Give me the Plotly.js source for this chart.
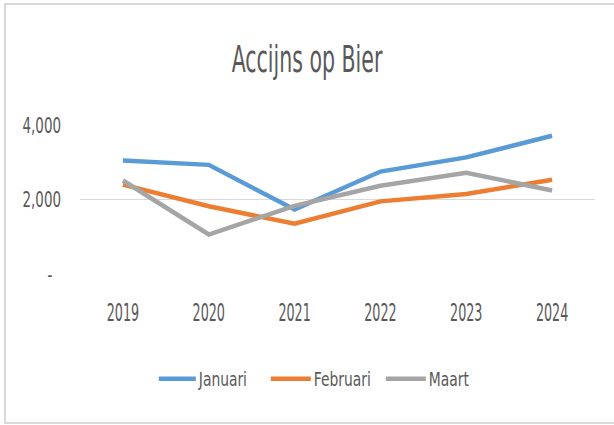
<!DOCTYPE html>
<html>
<head>
<meta charset="utf-8">
<script src="https://cdn.plot.ly/plotly-3.0.1.min.js"></script>
<style>
  html, body { margin: 0; padding: 0; background: #ffffff; }
  #chart { width: 614px; height: 425px; }
  #frame { position: absolute; left: 4px; top: 3px; width: 612px; height: 421px;
           border-left: 2px solid #d9d9d9; border-top: 2px solid #d9d9d9; border-bottom: 2px solid #d9d9d9;
           pointer-events: none; box-sizing: border-box; }
</style>
</head>
<body>
<div id="chart"></div>
<div id="frame"></div>
<script>
const years = ['2019', '2020', '2021', '2022', '2023', '2024'];
const januari = [3050, 2930, 1730, 2750, 3130, 3710];
const februari = [2400, 1820, 1350, 1950, 2150, 2530];
const maart = [2510, 1060, 1830, 2370, 2720, 2240];
const seriesNames = ['Januari', 'Februari', 'Maart'];
const seriesColors = ['#5B9BD5', '#ED7D31', '#A5A5A5'];
const yTickVals = [0, 2000, 4000];
const yTickText = ['-\u00a0\u00a0', '2,000', '4,000'];

const FONT = '"DejaVu Sans Condensed", "DejaVu Sans", sans-serif';
const TXT = '#595959';

const traces = [januari, februari, maart].map((vals, i) => ({
  type: 'scatter',
  mode: 'lines',
  name: seriesNames[i],
  x: years,
  y: vals,
  line: { color: seriesColors[i], width: 4.5 },
  hoverinfo: 'skip'
}));

const layout = {
  width: 614,
  height: 425,
  paper_bgcolor: '#ffffff',
  plot_bgcolor: '#ffffff',
  margin: { l: 79.5, r: 19, t: 125, b: 150.5 },
  font: { family: FONT, color: TXT, size: 19 },
  title: {
    text: 'Accijns op Bier',
    font: { family: FONT, size: 38, color: TXT },
    x: 0.5, xref: 'container', xanchor: 'center',
    y: 0.861, yref: 'container', yanchor: 'middle'
  },
  xaxis: {
    type: 'category',
    range: [-0.5, 5.5],
    showgrid: false,
    zeroline: false,
    showline: false,
    ticks: '',
    ticklabelstandoff: 22,
    tickfont: { family: FONT, size: 24, color: TXT }
  },
  yaxis: {
    range: [0, 4000],
    tickvals: yTickVals,
    ticktext: yTickText,
    showgrid: true,
    gridcolor: '#d9d9d9',
    gridwidth: 1,
    zeroline: false,
    showline: false,
    ticks: '',
    ticklabelstandoff: 18,
    tickfont: { family: FONT, size: 22, color: TXT }
  },
  showlegend: true,
  legend: {
    orientation: 'h',
    entrywidth: 70,
    entrywidthmode: 'pixels',
    x: 0.488, xanchor: 'center',
    y: -0.706, yanchor: 'middle',
    font: { family: FONT, size: 19.5, color: TXT },
    bgcolor: 'rgba(0,0,0,0)'
  }
};

// Horizontal condensing of text, as in the reference (which is strongly condensed)
function squeeze(el, s) {
  const x = parseFloat(el.getAttribute('x') || '0');
  const prev = el.getAttribute('transform') || '';
  el.setAttribute('transform', prev + ' translate(' + x + ',0) scale(' + s + ',1) translate(' + (-x) + ',0)');
}

Plotly.newPlot('chart', traces, layout, { staticPlot: true, displayModeBar: false }).then(gd => {
  gd.querySelectorAll('.gtitle').forEach(el => squeeze(el, 0.6));
  gd.querySelectorAll('.xtick text').forEach(el => squeeze(el, 0.59));
  gd.querySelectorAll('.ytick text').forEach(el => squeeze(el, 0.68));
  gd.querySelectorAll('.legendtext').forEach(el => squeeze(el, 0.79));
  gd.querySelectorAll('.legendlines path').forEach(el => el.setAttribute('d', 'M-3,0h40'));
});
</script>
</body>
</html>
